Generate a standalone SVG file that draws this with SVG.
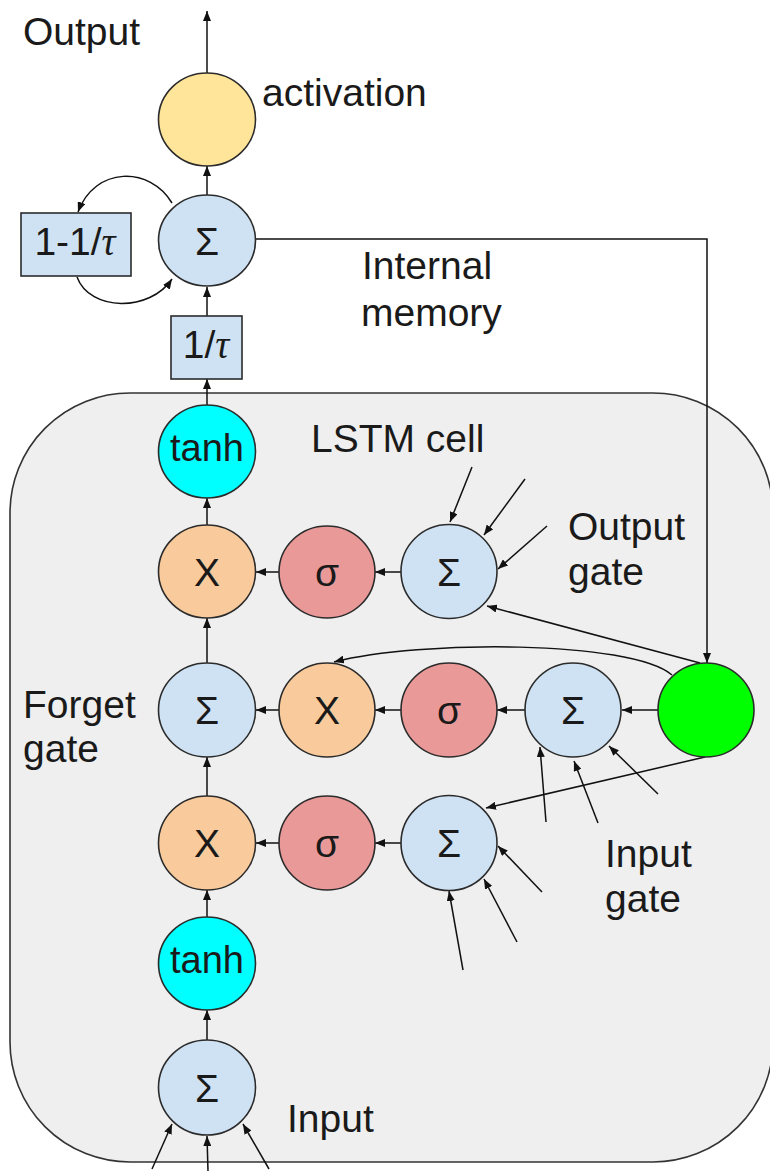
<svg xmlns="http://www.w3.org/2000/svg" width="770" height="1171" viewBox="0 0 770 1171">
<defs>
<marker id="ah" viewBox="0 0 10 8" markerWidth="10" markerHeight="8" refX="10" refY="4" orient="auto" markerUnits="userSpaceOnUse">
<path d="M0,0 L10,4 L0,8 z" fill="#111"/>
</marker>
<style>
.lbl{font-family:"Liberation Sans",Arial,sans-serif;font-size:39px;fill:#1a1a1a}
.sym{font-family:"Liberation Sans",Arial,sans-serif;font-size:39px;fill:#1a1a1a;text-anchor:middle}
.tau{font-family:"Liberation Serif","Times New Roman",serif;font-style:italic}
.nd{stroke:#2b2b2b;stroke-width:1.6}
.sum{fill:#cfe2f3}
.mul{fill:#f9cb9c}
.sig{fill:#ea9999}
.th{fill:#00ffff}
.act{fill:#ffe599}
.grn{fill:#00ff00}
.c{fill:none;stroke:#111;stroke-width:1.5;marker-end:url(#ah)}
</style>
</defs>
<rect width="770" height="1171" fill="#ffffff"/>
<g id="lstm-cell-box">
<rect x="10" y="393" width="763" height="769" rx="120" ry="120" fill="#efefef" stroke="#333" stroke-width="1.6"/>
</g>
<g id="connectors">
<line class="c" x1="207" y1="73" x2="207" y2="11"/>
<line class="c" x1="207" y1="195" x2="207" y2="166"/>
<line class="c" x1="207" y1="316" x2="207" y2="287"/>
<line class="c" x1="207" y1="405" x2="207" y2="379"/>
<line class="c" x1="207" y1="525" x2="207" y2="498"/>
<line class="c" x1="207" y1="663" x2="207" y2="618"/>
<line class="c" x1="207" y1="796" x2="207" y2="757"/>
<line class="c" x1="207" y1="917" x2="207" y2="890"/>
<line class="c" x1="207" y1="1040" x2="207" y2="1010"/>
<path class="c" d="M172,203 C150,166 95,166 78,212"/>
<path class="c" d="M77,277 C90,312 150,312 172,279"/>
<polyline class="c" points="256,239 707,239 707,663"/>
<line class="c" x1="279" y1="572" x2="256" y2="572"/>
<line class="c" x1="401" y1="572" x2="375" y2="572"/>
<line class="c" x1="279" y1="710" x2="256" y2="710"/>
<line class="c" x1="401" y1="710" x2="375" y2="710"/>
<line class="c" x1="525" y1="710" x2="497" y2="710"/>
<line class="c" x1="658" y1="710" x2="622" y2="710"/>
<line class="c" x1="279" y1="843" x2="256" y2="843"/>
<line class="c" x1="401" y1="843" x2="375" y2="843"/>
<path class="c" d="M672,675 C630,640 420,640 334,662"/>
<line class="c" x1="700" y1="663" x2="487" y2="606"/>
<line class="c" x1="705" y1="757" x2="486" y2="808"/>
<line class="c" x1="472" y1="467" x2="450" y2="522"/>
<line class="c" x1="525" y1="479" x2="484" y2="535"/>
<line class="c" x1="547" y1="526" x2="498" y2="569"/>
<line class="c" x1="546" y1="822" x2="540" y2="747"/>
<line class="c" x1="598" y1="823" x2="574" y2="761"/>
<line class="c" x1="658" y1="794" x2="609" y2="746"/>
<line class="c" x1="542" y1="892" x2="498" y2="846"/>
<line class="c" x1="517" y1="942" x2="484" y2="879"/>
<line class="c" x1="463" y1="970" x2="449" y2="891"/>
<line class="c" x1="152" y1="1169" x2="172" y2="1124"/>
<line class="c" x1="208" y1="1171" x2="207" y2="1136"/>
<line class="c" x1="269" y1="1169" x2="243" y2="1124"/>
</g>
<g id="activation">
<ellipse class="nd act" cx="207" cy="119.5" rx="48.5" ry="46.5"/>
</g>
<g id="memory-sum">
<ellipse class="nd sum" cx="207" cy="240.5" rx="48.5" ry="45.5"/>
<text class="sym" x="207" y="255">Σ</text>
</g>
<g id="decay-box">
<rect class="nd sum" x="21" y="213" width="110" height="63"/>
<text class="sym" x="75" y="255">1-1/<tspan class="tau">τ</tspan></text>
</g>
<g id="scale-box">
<rect class="nd sum" x="171" y="316" width="71" height="63"/>
<text class="sym" x="206" y="358">1/<tspan class="tau">τ</tspan></text>
</g>
<g id="tanh-out">
<ellipse class="nd th" cx="207" cy="451.5" rx="48.5" ry="46.5"/>
<text class="sym" x="207" y="461" style="font-size:38px">tanh</text>
</g>
<g id="mul-out">
<ellipse class="nd mul" cx="207" cy="571.5" rx="48.5" ry="46.5"/>
<text class="sym" x="207" y="585.5">X</text>
</g>
<g id="sig-out">
<ellipse class="nd sig" cx="327" cy="572" rx="48" ry="46"/>
<text class="sym" x="327" y="585.5">σ</text>
</g>
<g id="sum-outgate">
<ellipse class="nd sum" cx="449" cy="571.5" rx="48" ry="47"/>
<text class="sym" x="449" y="585.5">Σ</text>
</g>
<g id="sum-cell">
<ellipse class="nd sum" cx="207" cy="710" rx="48.5" ry="47"/>
<text class="sym" x="207" y="724">Σ</text>
</g>
<g id="mul-forget">
<ellipse class="nd mul" cx="327" cy="710" rx="48" ry="47"/>
<text class="sym" x="327" y="724">X</text>
</g>
<g id="sig-forget">
<ellipse class="nd sig" cx="449" cy="710" rx="48" ry="47"/>
<text class="sym" x="449" y="724">σ</text>
</g>
<g id="sum-forget">
<ellipse class="nd sum" cx="573" cy="710" rx="48" ry="47"/>
<text class="sym" x="573" y="724">Σ</text>
</g>
<g id="memory-node">
<ellipse class="nd grn" cx="706" cy="710" rx="48" ry="47"/>
</g>
<g id="mul-in">
<ellipse class="nd mul" cx="207" cy="843" rx="48.5" ry="47"/>
<text class="sym" x="207" y="857">X</text>
</g>
<g id="sig-in">
<ellipse class="nd sig" cx="327" cy="843" rx="48" ry="47"/>
<text class="sym" x="327" y="857">σ</text>
</g>
<g id="sum-ingate">
<ellipse class="nd sum" cx="449" cy="843" rx="48" ry="47.5"/>
<text class="sym" x="449" y="857">Σ</text>
</g>
<g id="tanh-in">
<ellipse class="nd th" cx="207" cy="963.5" rx="48.5" ry="46.5"/>
<text class="sym" x="207" y="973" style="font-size:38px">tanh</text>
</g>
<g id="sum-input">
<ellipse class="nd sum" cx="207" cy="1087.5" rx="48.5" ry="47.5"/>
<text class="sym" x="207" y="1101.5">Σ</text>
</g>
<g id="labels">
<text class="lbl" x="23" y="45">Output</text>
<text class="lbl" x="262" y="106">activation</text>
<text class="lbl" x="362" y="279">Internal</text>
<text class="lbl" x="361" y="326">memory</text>
<text class="lbl" x="311" y="452">LSTM cell</text>
<text class="lbl" x="568" y="540">Output</text>
<text class="lbl" x="568" y="585">gate</text>
<text class="lbl" x="23" y="718">Forget</text>
<text class="lbl" x="23" y="762">gate</text>
<text class="lbl" x="605" y="867">Input</text>
<text class="lbl" x="605" y="912">gate</text>
<text class="lbl" x="287" y="1132">Input</text>
</g>
</svg>
